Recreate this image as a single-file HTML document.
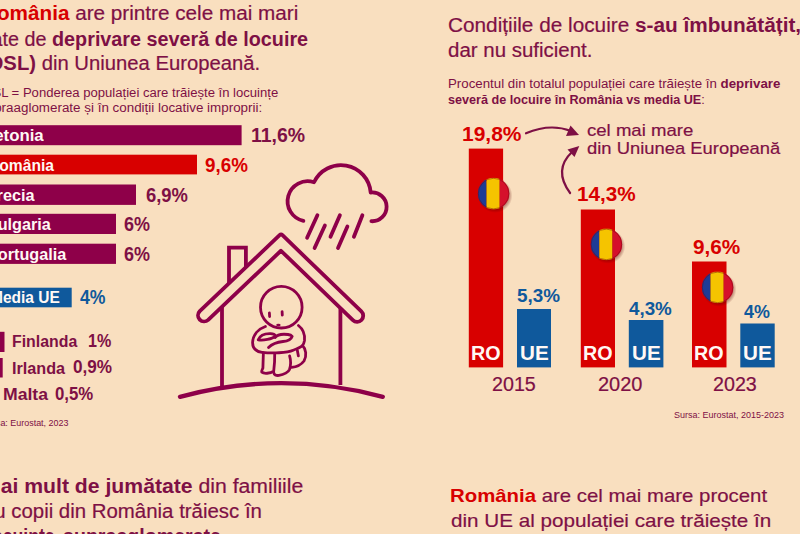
<!DOCTYPE html>
<html><head><meta charset="utf-8"><style>
html,body{margin:0;padding:0;}
body{width:800px;height:534px;overflow:hidden;position:relative;background:#f9dfbf;font-family:"Liberation Sans",sans-serif;}
.t{position:absolute;white-space:nowrap;line-height:1;transform-origin:0 0;}
.r{font-weight:400;}
.big .r{-webkit-text-stroke:0.2px currentColor;}
.b{font-weight:700;}
svg{position:absolute;left:0;top:0;}
</style></head><body>
<svg width="800" height="534" viewBox="0 0 800 534">
<defs>
<radialGradient id="fsh" cx="0.5" cy="0.5" r="0.5">
<stop offset="0.7" stop-color="#5a0000" stop-opacity="0.55"/>
<stop offset="1" stop-color="#5a0000" stop-opacity="0"/>
</radialGradient>
<clipPath id="fc"><circle cx="0" cy="0" r="15.8"/></clipPath>
<g id="flag">
<circle cx="1.6" cy="2" r="17.3" fill="url(#fsh)"/>
<g clip-path="url(#fc)">
<rect x="-16" y="-16" width="8.9" height="32" fill="#1e3c95"/>
<rect x="-7.1" y="-16" width="13.2" height="32" fill="#f5c400"/>
<rect x="6.1" y="-16" width="10" height="32" fill="#d5102b"/>
</g>
<circle cx="0" cy="0" r="15.3" fill="none" stroke="#700010" stroke-opacity="0.45" stroke-width="1"/>
</g>
</defs>
<!-- horizontal bars -->
<rect x="-5" y="125.2" width="246.6" height="20" fill="#8e0049"/>
<rect x="-5" y="154.7" width="202" height="19.7" fill="#d80000"/>
<rect x="-5" y="184.5" width="141" height="20.4" fill="#8e0049"/>
<rect x="-5" y="213.8" width="121" height="20.2" fill="#8e0049"/>
<rect x="-5" y="243.7" width="121" height="20.2" fill="#8e0049"/>
<rect x="-5" y="287.7" width="76.7" height="19.6" fill="#0f599c"/>
<rect x="-5" y="331.8" width="9.5" height="20.2" fill="#8e0049"/>
<rect x="-5" y="358" width="7.7" height="19.5" fill="#8e0049"/>
<!-- vertical bars -->
<rect x="468.8" y="148.6" width="34.3" height="218.8" fill="#d80000"/>
<rect x="517" y="309" width="34" height="58.4" fill="#0f599c"/>
<rect x="580.8" y="209.5" width="34.2" height="157.9" fill="#d80000"/>
<rect x="628.8" y="320" width="34.6" height="47.4" fill="#0f599c"/>
<rect x="692" y="261.5" width="34.5" height="105.9" fill="#d80000"/>
<rect x="740.3" y="323.5" width="34.4" height="43.9" fill="#0f599c"/>
<use href="#flag" x="493.6" y="193.6"/>
<use href="#flag" x="606.4" y="244.4"/>
<use href="#flag" x="717.6" y="287.4"/>
<!-- arrows -->
<g stroke="#7e1045" stroke-width="2.2" fill="none" stroke-linecap="round">
<path d="M526 133.3 Q 550 123 571 131"/>
<path d="M570.1 193 Q 553 170 572 152"/>
</g>
<g fill="#7e1045">
<path d="M579 135 L570.5 125.5 L566 136 Z"/>
<path d="M579.3 146 L567.5 149.5 L574.5 157 Z"/>
</g>
<!-- house -->
<g stroke="#8e0049" fill="none" stroke-linecap="round" stroke-linejoin="round">
<path d="M199.80 311.08 L279.58 235.23 Q281.03 233.85 282.47 235.24 L361.34 311.41 A6.1 6.1 0 0 1 352.86 320.19 L280.97 250.75 L208.20 319.92 A6.1 6.1 0 0 1 199.80 311.08 Z" stroke-width="3.8"/>
<path d="M222 307 L222 386 M340.4 308.5 L340.4 385" stroke-width="3.8" stroke-linecap="butt"/>
<path d="M229 283.5 L229 247.6 L245.9 247.6 L245.9 267.5" stroke-width="3.8" stroke-linejoin="miter" stroke-linecap="butt"/>
<path d="M180 396.8 Q 281 369.5 382.8 396.8" stroke-width="4.3"/>
<!-- cloud -->
<path d="M303.4 220.8 A 20 20 0 1 1 314.0 182.3 A 29.8 29.8 0 0 1 370.7 192.5 A 14.4 14.4 0 1 1 371.4 221.2" stroke-width="3.8"/>
<path d="M317.4 215.2 L307.1 237.7 M324.9 225.5 L314.6 248 M339.9 215.2 L330.5 236.7 M347.4 226.5 L338 248 M362.4 215.2 L353.9 236.7" stroke-width="3.8"/>
<!-- person -->
<g stroke-width="2.8">
<circle cx="281.3" cy="307.2" r="20.8"/>
<path d="M269.4 313 L269.6 316.5 M282.1 311.6 L282.3 315.2"/>
<path d="M265.4 326.5 C 258 329 253 335 252.6 342.5 C 252.5 348 256 351.5 262 352.3 C 272 353.5 287 353 293.2 350.2 C 298 348.5 301 347 302.5 345.6"/>
<path d="M298.4 325.5 C 303 329 305 335 304.5 340.4 C 304 343 303.5 344.5 302.5 345.6 C 306 349 307 356 304 361 C 301 365 296 367 291.5 367.4"/>
<path d="M258.2 339.9 C 260 335.5 265 333.5 270.6 333.7 C 273 333.8 275 334.8 275.7 336 C 272 339.5 263 340.5 258.2 339.9 Z"/>
<path d="M275.2 337.5 C 277 334.8 282 333.8 288 334.5 C 290 334.8 291.5 335.5 292.2 336.3 C 291.5 338.5 288 341 283 341.5 C 278 342 272 344 268.5 347.6"/>
<path d="M263.4 352.8 C 263.2 358 263 364 262.9 368.2 C 262 370 261.3 371 261.8 372.2 C 264 374 270 373.5 273.7 371.3 C 274.5 365 274.8 358 274.7 353.8"/>
<path d="M273.7 372.3 C 274 374.8 276 375.8 279 375.4 C 284 374.8 288.5 372 289.5 369.5 C 291 365 290.8 360 289.6 355.9"/>
<path d="M297.3 350.2 L298.4 355.9"/>
</g>
</g>
<ellipse cx="278.4" cy="325" rx="2.2" ry="1.3" fill="#8e0049"/>
</svg>

<div class="t big" style="left:-18.44px;top:3.07px;font-size:20px;transform:scaleX(1.0347)"><span class="b" style="color:#d80000">România</span><span class="r" style="color:#7e1045"> are printre cele mai mari</span></div>
<div class="t big" style="left:-14.65px;top:28.57px;font-size:20px;transform:scaleX(0.9884)"><span class="r" style="color:#7e1045">rate de </span><span class="b" style="color:#7e1045">deprivare severă de locuire</span></div>
<div class="t big" style="left:-18.30px;top:53.07px;font-size:20px;transform:scaleX(1.0128)"><span class="b" style="color:#7e1045">(DSL)</span><span class="r" style="color:#7e1045"> din Uniunea Europeană.</span></div>
<div class="t" style="left:-17.21px;top:86.94px;font-size:12px;transform:scaleX(1.0904)"><span class="r" style="color:#7e1045">DSL = Ponderea populației care trăiește în locuințe</span></div>
<div class="t" style="left:-19.69px;top:102.04px;font-size:12px;transform:scaleX(1.1164)"><span class="r" style="color:#7e1045">supraaglomerate și în condiții locative improprii:</span></div>
<div class="t" style="left:-16.34px;top:127.76px;font-size:16px;transform:scaleX(1.0494)"><span class="b" style="color:#fff8f4">Letonia</span></div>
<div class="t" style="left:-12.44px;top:157.66px;font-size:16px;transform:scaleX(0.9773)"><span class="b" style="color:#fff8f4">România</span></div>
<div class="t" style="left:-16.28px;top:187.66px;font-size:16px;transform:scaleX(1.0133)"><span class="b" style="color:#fff8f4">Grecia</span></div>
<div class="t" style="left:-13.57px;top:217.06px;font-size:16px;transform:scaleX(1.0133)"><span class="b" style="color:#fff8f4">Bulgaria</span></div>
<div class="t" style="left:-13.28px;top:247.06px;font-size:16px;transform:scaleX(1.0133)"><span class="b" style="color:#fff8f4">Portugalia</span></div>
<div class="t" style="left:-10.32px;top:290.26px;font-size:16px;transform:scaleX(0.9695)"><span class="b" style="color:#fff8f4">Media UE</span></div>
<div class="t big" style="left:250.90px;top:125.07px;font-size:20px;transform:scaleX(0.9729)"><span class="b" style="color:#7e1045">11,6%</span></div>
<div class="t big" style="left:204.50px;top:155.07px;font-size:20px;transform:scaleX(0.9409)"><span class="b" style="color:#d80000">9,6%</span></div>
<div class="t big" style="left:146.00px;top:184.87px;font-size:20px;transform:scaleX(0.9212)"><span class="b" style="color:#7e1045">6,9%</span></div>
<div class="t big" style="left:124.00px;top:214.07px;font-size:20px;transform:scaleX(0.8995)"><span class="b" style="color:#7e1045">6%</span></div>
<div class="t big" style="left:124.00px;top:243.57px;font-size:20px;transform:scaleX(0.8995)"><span class="b" style="color:#7e1045">6%</span></div>
<div class="t big" style="left:79.50px;top:287.07px;font-size:20px;transform:scaleX(0.8822)"><span class="b" style="color:#0f599c">4%</span></div>
<div class="t" style="left:11.50px;top:334.36px;font-size:16px;transform:scaleX(0.9912)"><span class="b" style="color:#7e1045">Finlanda</span></div>
<div class="t big" style="left:87.70px;top:333.19px;font-size:17.5px;transform:scaleX(0.9211)"><span class="b" style="color:#7e1045">1%</span></div>
<div class="t" style="left:11.50px;top:360.76px;font-size:16px;transform:scaleX(1.0120)"><span class="b" style="color:#7e1045">Irlanda</span></div>
<div class="t big" style="left:72.50px;top:359.49px;font-size:17.5px;transform:scaleX(0.9802)"><span class="b" style="color:#7e1045">0,9%</span></div>
<div class="t" style="left:2.50px;top:386.96px;font-size:16px;transform:scaleX(1.1001)"><span class="b" style="color:#7e1045">Malta</span></div>
<div class="t big" style="left:55.30px;top:385.79px;font-size:17.5px;transform:scaleX(0.9601)"><span class="b" style="color:#7e1045">0,5%</span></div>
<div class="t" style="left:-17.70px;top:419.28px;font-size:9px;transform:scaleX(0.9930)"><span class="r" style="color:#7e1045">Sursa: Eurostat, 2023</span></div>
<div class="t big" style="left:-16.60px;top:476.07px;font-size:20px;transform:scaleX(1.0596)"><span class="b" style="color:#7e1045">Mai mult de jumătate</span><span class="r" style="color:#7e1045"> din familiile</span></div>
<div class="t big" style="left:-16.00px;top:501.07px;font-size:20px;transform:scaleX(1.0205)"><span class="r" style="color:#7e1045">cu copii din România trăiesc în</span></div>
<div class="t big" style="left:-12.68px;top:526.07px;font-size:20px;transform:scaleX(0.8828)"><span class="b" style="color:#7e1045">locuințe</span></div>
<div class="t big" style="left:63.00px;top:526.07px;font-size:20px;transform:scaleX(0.9803)"><span class="b" style="color:#7e1045">supraaglomerate.</span></div>
<div class="t big" style="left:448.17px;top:15.17px;font-size:20px;transform:scaleX(1.0382)"><span class="r" style="color:#7e1045">Condițiile de locuire </span><span class="b" style="color:#7e1045">s-au îmbunătățit,</span></div>
<div class="t big" style="left:448.00px;top:39.97px;font-size:20px;transform:scaleX(1.0233)"><span class="r" style="color:#7e1045">dar nu suficient.</span></div>
<div class="t" style="left:448.26px;top:78.34px;font-size:12px;transform:scaleX(1.1072)"><span class="r" style="color:#7e1045">Procentul din totalul populației care trăiește în </span><span class="b" style="color:#7e1045">deprivare</span></div>
<div class="t" style="left:448.12px;top:93.54px;font-size:12px;transform:scaleX(1.0519)"><span class="b" style="color:#7e1045">severă de locuire în România vs </span><span class="b" style="color:#7e1045">media UE</span><span class="r" style="color:#7e1045">:</span></div>
<div class="t big" style="left:586.70px;top:121.51px;font-size:17px;transform:scaleX(1.0924)"><span class="r" style="color:#7e1045">cel mai mare</span></div>
<div class="t big" style="left:586.70px;top:140.21px;font-size:17px;transform:scaleX(1.0820)"><span class="r" style="color:#7e1045">din Uniunea Europeană</span></div>
<div class="t big" style="left:461.70px;top:124.47px;font-size:20px;transform:scaleX(1.0490)"><span class="b" style="color:#d80000">19,8%</span></div>
<div class="t big" style="left:577.00px;top:184.07px;font-size:20px;transform:scaleX(1.0349)"><span class="b" style="color:#d80000">14,3%</span></div>
<div class="t big" style="left:692.70px;top:237.47px;font-size:20px;transform:scaleX(1.0374)"><span class="b" style="color:#d80000">9,6%</span></div>
<div class="t big" style="left:517.00px;top:287.16px;font-size:18px;transform:scaleX(1.0480)"><span class="b" style="color:#0f599c">5,3%</span></div>
<div class="t big" style="left:628.70px;top:299.76px;font-size:18px;transform:scaleX(1.0431)"><span class="b" style="color:#0f599c">4,3%</span></div>
<div class="t big" style="left:744.40px;top:302.56px;font-size:18px;transform:scaleX(0.9956)"><span class="b" style="color:#0f599c">4%</span></div>
<div class="t big" style="left:471.40px;top:341.72px;font-size:21px;transform:scaleX(0.9397)"><span class="b" style="color:#fff8f4">RO</span></div>
<div class="t big" style="left:520.00px;top:341.72px;font-size:21px;transform:scaleX(0.9833)"><span class="b" style="color:#fff8f4">UE</span></div>
<div class="t big" style="left:582.90px;top:341.72px;font-size:21px;transform:scaleX(0.9397)"><span class="b" style="color:#fff8f4">RO</span></div>
<div class="t big" style="left:631.50px;top:341.72px;font-size:21px;transform:scaleX(0.9833)"><span class="b" style="color:#fff8f4">UE</span></div>
<div class="t big" style="left:694.40px;top:341.72px;font-size:21px;transform:scaleX(0.9397)"><span class="b" style="color:#fff8f4">RO</span></div>
<div class="t big" style="left:743.00px;top:341.72px;font-size:21px;transform:scaleX(0.9833)"><span class="b" style="color:#fff8f4">UE</span></div>
<div class="t big" style="left:491.90px;top:374.99px;font-size:19.5px;transform:scaleX(1.0094)"><span class="r" style="color:#7e1045">2015</span></div>
<div class="t big" style="left:597.50px;top:375.29px;font-size:19.5px;transform:scaleX(1.0256)"><span class="r" style="color:#7e1045">2020</span></div>
<div class="t big" style="left:713.00px;top:375.49px;font-size:19.5px;transform:scaleX(1.0094)"><span class="r" style="color:#7e1045">2023</span></div>
<div class="t" style="left:674.00px;top:411.28px;font-size:9px;transform:scaleX(0.9984)"><span class="r" style="color:#7e1045">Sursa: Eurostat, 2015-2023</span></div>
<div class="t big" style="left:449.64px;top:486.42px;font-size:19px;transform:scaleX(1.0723)"><span class="b" style="color:#d80000">România</span><span class="r" style="color:#7e1045"> are cel mai mare procent</span></div>
<div class="t big" style="left:450.50px;top:511.22px;font-size:19px;transform:scaleX(1.0870)"><span class="r" style="color:#7e1045">din UE al populației care trăiește în</span></div>
</body></html>
